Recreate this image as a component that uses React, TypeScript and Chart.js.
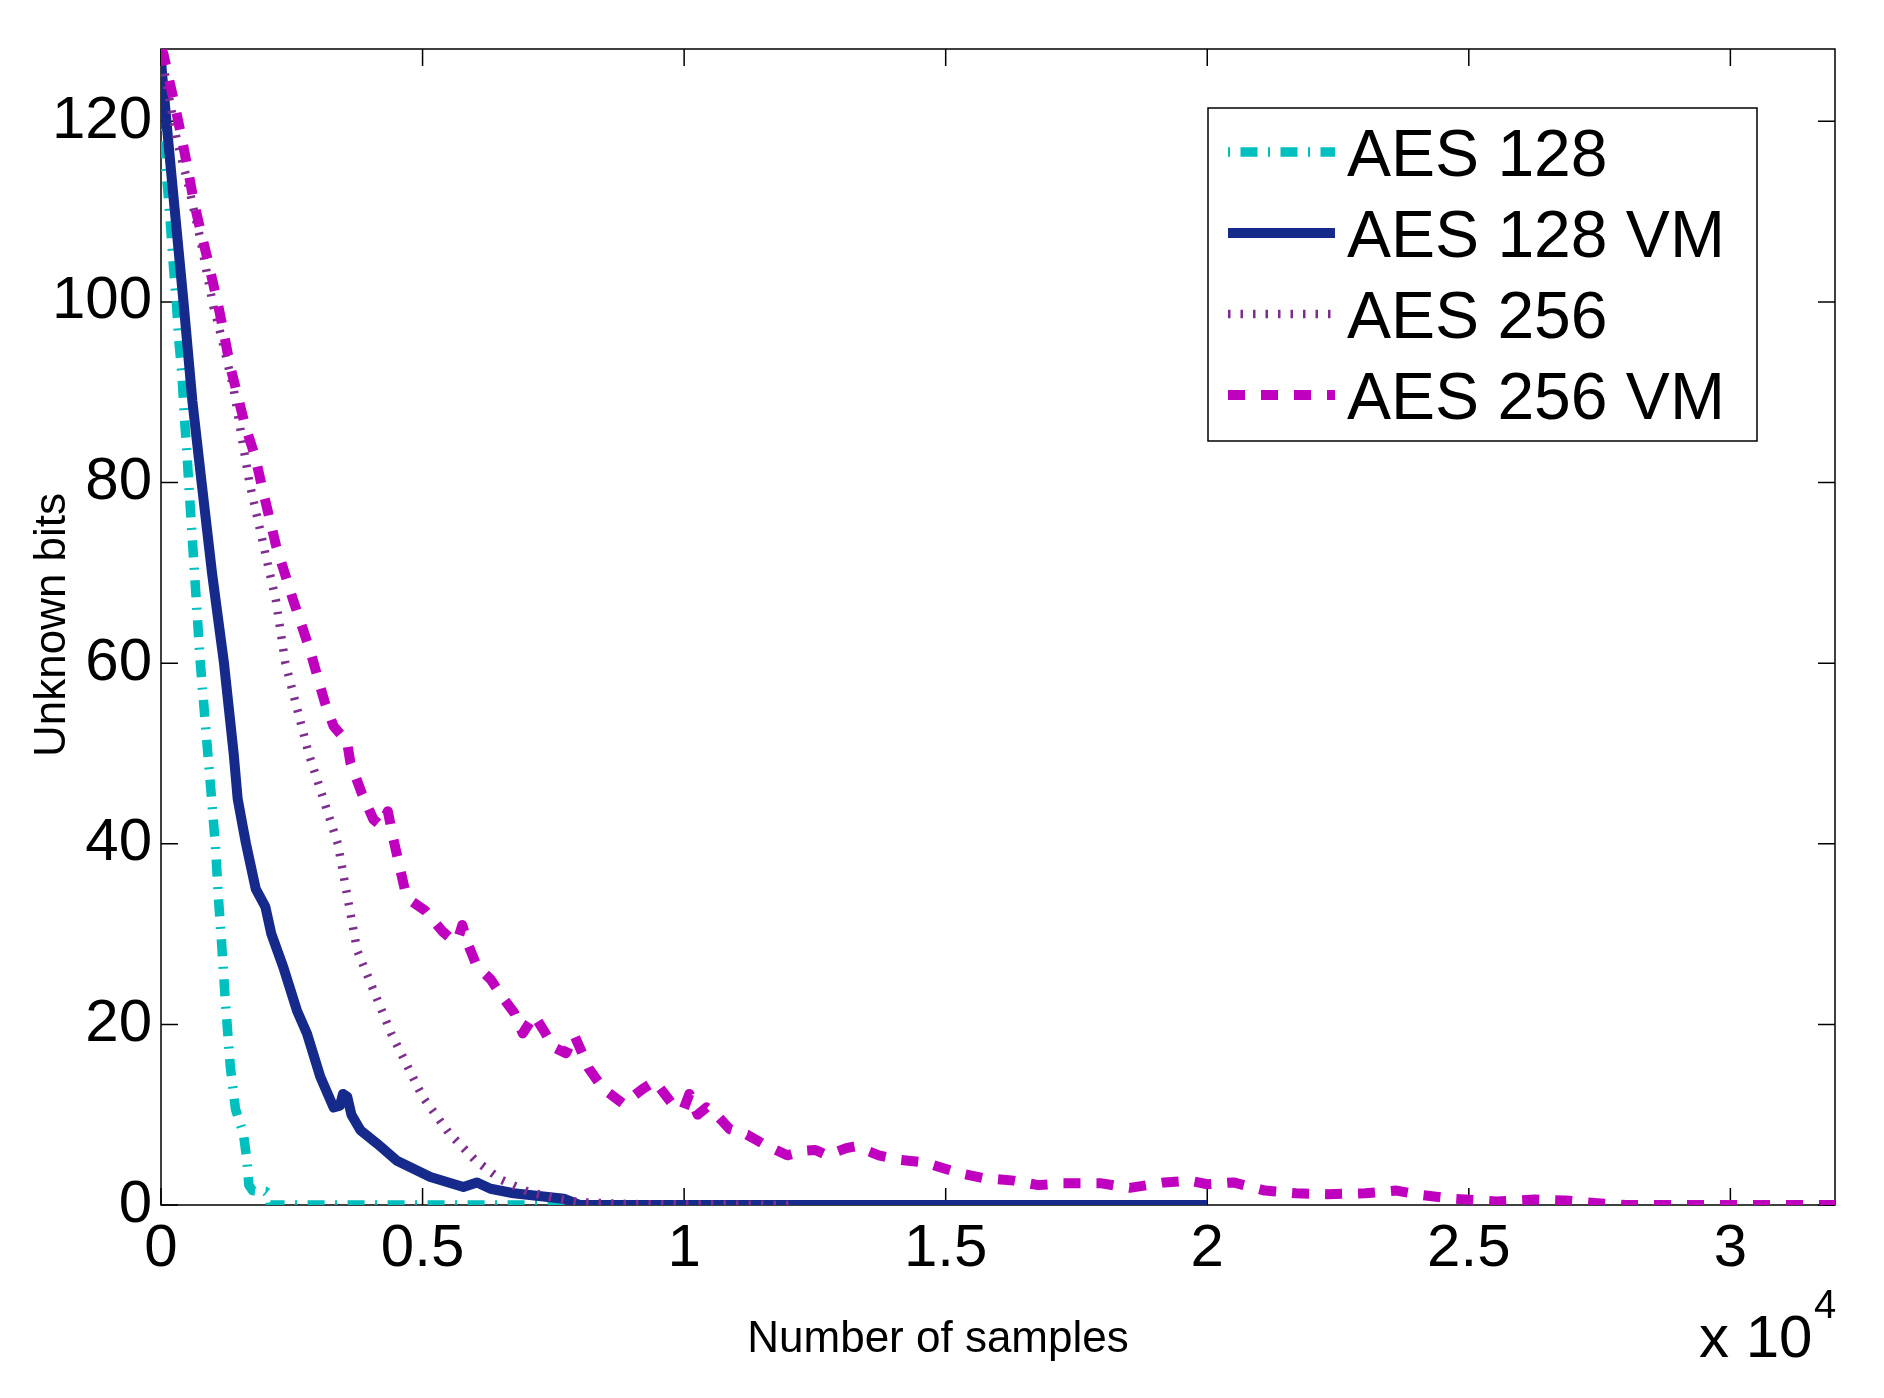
import React, { useEffect, useRef } from "react";
import { Chart, registerables } from "chart.js";

Chart.register(...registerables);

const W = 1884;
const H = 1398;
const FONT = "'Liberation Sans', Arial, Helvetica, sans-serif";

// ---- data ----
const seriesNames = ["AES 128", "AES 128 VM", "AES 256", "AES 256 VM"];
const xTickValues = [0, 5000, 10000, 15000, 20000, 25000, 30000];
const yTickValues = [0, 20, 40, 60, 80, 100, 120];
const xAxisLabel = "Number of samples";
const yAxisLabel = "Unknown bits";
const xExponentBase = "x 10";
const xExponent = "4";

const aes128X = [0, 10, 50, 82, 126, 178, 229, 293, 337, 400, 446, 497, 529, 752, 1038, 1101, 1147, 1230, 1325, 1424, 1575, 1644, 1680, 1750, 2000, 2060, 2090, 20000];
const aes128Y = [128, 122, 119, 115, 112.7, 108.8, 104.6, 100, 96, 92, 87.3, 83.2, 80, 60, 40, 33.7, 30, 22.6, 15.3, 10.6, 7.9, 4.9, 2.2, 1.6, 1.5, 1.2, 0, 0];

const aes128vmX = [0, 20, 200, 430, 600, 776, 975, 1204, 1389, 1465, 1560, 1625, 1811, 1996, 2110, 2340, 2600, 2790, 3045, 3300, 3420, 3480, 3560, 3640, 3810, 4130, 4510, 5150, 5780, 6040, 6300, 6740, 7700, 8000, 20000];
const aes128vmY = [127, 125.3, 114, 100, 89, 80, 70, 60, 50, 45, 42, 40, 35, 33, 30, 26.3, 21.5, 19, 14.2, 10.8, 11, 12.3, 12, 10, 8.3, 6.8, 4.9, 3.1, 2.0, 2.5, 1.8, 1.3, 0.7, 0, 0];

const aes256X = [0, 80, 300, 520, 750, 1000, 1100, 1384, 1690, 2195, 2377, 2823, 3380, 3750, 4400, 5000, 5500, 6000, 6500, 7000, 7500, 8000, 9000, 12000];
const aes256Y = [128, 125, 118, 113, 107, 99.5, 97.4, 90.5, 80, 67, 60, 50, 40, 28.2, 19, 12, 8, 5, 2.8, 1.5, 0.8, 0.3, 0.1, 0];

const aes256vmX = [0, 45, 178, 293, 401, 516, 624, 751, 879, 1101, 1229, 1325, 1453, 1599, 1803, 1931, 2200, 2525, 2855, 3128, 3300, 3450, 3550, 3620, 3843, 4060, 4200, 4336, 4443, 4556, 4666, 4800, 5050, 5380, 5600, 5680, 5760, 5860, 6040, 6300, 6530, 6750, 6915, 7135, 7350, 7500, 7740, 7900, 8180, 8450, 8835, 9220, 9440, 9770, 9990, 10100, 10260, 10430, 10650, 10870, 11200, 11530, 11970, 12300, 12510, 12730, 13100, 13280, 13720, 14130, 14610, 15220, 15700, 16300, 16770, 17250, 17980, 18520, 19180, 19660, 20000, 20500, 21100, 21700, 22300, 23020, 23620, 24100, 24700, 25530, 26260, 26850, 27460, 28000, 32000];
const aes256vmY = [128, 127.5, 124, 121, 118, 114.6, 111.2, 108, 105, 99.4, 95.7, 92.8, 89.9, 86.5, 82.8, 79.5, 73, 67, 61.3, 55.7, 53, 52, 51.5, 49, 45.5, 42.7, 42, 43.6, 40.5, 37.6, 34.8, 33.6, 32.6, 30.3, 29.2, 29.5, 31, 29, 26.4, 25, 23, 21.3, 19, 21, 19, 17.5, 16.8, 18.8, 15.1, 12.9, 11.2, 12.9, 13.7, 11.2, 10.6, 12.3, 10, 10.8, 9.8, 8.4, 7.8, 6.7, 5.5, 6, 6.1, 5.5, 6.3, 6.5, 5.5, 5, 4.7, 3.6, 3, 2.7, 2.2, 2.4, 2.4, 1.9, 2.5, 2.7, 2.3, 2.5, 1.6, 1.3, 1.2, 1.3, 1.6, 1.1, 0.7, 0.4, 0.6, 0.5, 0.2, 0, 0];

// ---- styles ----
const colors = ["#00BFBF", "#152A8A", "#7E2F8E", "#BF00BF"];
const widths = [9.5, 10, 8.5, 10];
const dashes: number[][] = [[2, 10.5, 17, 10.5], [], [2.5, 10], [17, 16]];
const orders = [4, 3, 2, 1];

const toPoints = (xs: number[], ys: number[]) => xs.map((x, i) => ({ x, y: ys[i] }));

const seriesData = [
  toPoints(aes128X, aes128Y),
  toPoints(aes128vmX, aes128vmY),
  toPoints(aes256X, aes256Y),
  toPoints(aes256vmX, aes256vmY),
];

const decorPlugin = {
  id: "decor",
  beforeDatasetsDraw(chart: any) {
    const { ctx, chartArea: a, scales } = chart;
    ctx.save();
    ctx.strokeStyle = "#000";
    ctx.lineWidth = 1.5;
    ctx.setLineDash([]);
    ctx.strokeRect(a.left, a.top, a.right - a.left, a.bottom - a.top);
    const TL = 17;
    ctx.beginPath();
    xTickValues.forEach((v) => {
      const px = scales.x.getPixelForValue(v);
      ctx.moveTo(px, a.bottom);
      ctx.lineTo(px, a.bottom - TL);
      ctx.moveTo(px, a.top);
      ctx.lineTo(px, a.top + TL);
    });
    yTickValues.forEach((v) => {
      const py = scales.y.getPixelForValue(v);
      ctx.moveTo(a.left, py);
      ctx.lineTo(a.left + TL, py);
      ctx.moveTo(a.right, py);
      ctx.lineTo(a.right - TL, py);
    });
    ctx.stroke();
    ctx.restore();
  },
  afterDatasetsDraw(chart: any) {
    const { ctx } = chart;
    ctx.save();
    // legend box
    const bx = 1208, by = 108, bw = 549, bh = 333;
    ctx.fillStyle = "#fff";
    ctx.fillRect(bx, by, bw, bh);
    ctx.strokeStyle = "#000";
    ctx.lineWidth = 1.5;
    ctx.setLineDash([]);
    ctx.strokeRect(bx, by, bw, bh);
    const rows = [152, 233, 314, 395];
    seriesNames.forEach((name, i) => {
      const y = rows[i];
      ctx.beginPath();
      ctx.strokeStyle = colors[i];
      ctx.lineWidth = widths[i];
      ctx.lineCap = "butt";
      ctx.setLineDash(dashes[i]);
      ctx.moveTo(1228, y);
      ctx.lineTo(1335, y);
      ctx.stroke();
      ctx.setLineDash([]);
      ctx.fillStyle = "#000";
      ctx.font = `66px ${FONT}`;
      ctx.textAlign = "left";
      ctx.textBaseline = "alphabetic";
      ctx.fillText(name, 1347, y + 24);
    });
    ctx.restore();
  },
  afterDraw(chart: any) {
    const { ctx } = chart;
    ctx.save();
    ctx.fillStyle = "#000";
    ctx.textBaseline = "alphabetic";
    // x axis title
    ctx.font = `44px ${FONT}`;
    ctx.textAlign = "center";
    ctx.fillText(xAxisLabel, 938, 1352);
    // y axis title
    ctx.save();
    ctx.translate(65, 625);
    ctx.rotate(-Math.PI / 2);
    ctx.textAlign = "center";
    ctx.fillText(yAxisLabel, 0, 0);
    ctx.restore();
    // exponent
    ctx.textAlign = "left";
    ctx.font = `60px ${FONT}`;
    ctx.fillText(xExponentBase, 1699, 1357);
    ctx.font = `40px ${FONT}`;
    ctx.fillText(xExponent, 1814, 1318);
    ctx.restore();
  },
};

export default function App() {
  const ref = useRef<HTMLCanvasElement | null>(null);

  useEffect(() => {
    document.body.style.margin = "0";
    const canvas = ref.current;
    if (!canvas) return;
    const chart = new Chart(canvas, {
      type: "line",
      data: {
        datasets: seriesNames.map((name, i) => ({
          label: name,
          data: seriesData[i],
          borderColor: colors[i],
          backgroundColor: colors[i],
          borderWidth: widths[i],
          borderDash: dashes[i],
          borderCapStyle: "butt",
          borderJoinStyle: "round",
          pointRadius: 0,
          pointHoverRadius: 0,
          fill: false,
          tension: 0,
          clip: 0,
          order: orders[i],
        })),
      },
      options: {
        animation: false,
        responsive: false,
        devicePixelRatio: 1,
        events: [],
        layout: { padding: { top: 49, right: 49, left: 0, bottom: 0 } },
        plugins: {
          legend: { display: false },
          tooltip: { enabled: false },
          title: { display: false },
        },
        scales: {
          x: {
            type: "linear",
            min: 0,
            max: 32000,
            grid: { display: false, drawTicks: false },
            border: { display: false },
            ticks: {
              color: "#000",
              font: { family: FONT, size: 60 },
              padding: 8,
              maxRotation: 0,
              autoSkip: false,
              callback: (v: any) => String(Number(v) / 10000),
            },
            afterBuildTicks: (s: any) => {
              s.ticks = xTickValues.map((v) => ({ value: v }));
            },
            afterFit: (s: any) => {
              s.height = 193;
            },
          },
          y: {
            type: "linear",
            min: 0,
            max: 128,
            grid: { display: false, drawTicks: false },
            border: { display: false },
            ticks: {
              color: "#000",
              font: { family: FONT, size: 60 },
              padding: 9,
              autoSkip: false,
              callback: (v: any) => String(v),
            },
            afterBuildTicks: (s: any) => {
              s.ticks = yTickValues.map((v) => ({ value: v }));
            },
            afterFit: (s: any) => {
              s.width = 161;
            },
          },
        },
      } as any,
      plugins: [decorPlugin],
    });
    return () => chart.destroy();
  }, []);

  return (
    <div style={{ position: "absolute", left: 0, top: 0, width: W, height: H, background: "#fff" }}>
      <canvas ref={ref} width={W} height={H} style={{ width: W, height: H, display: "block" }} />
    </div>
  );
}
